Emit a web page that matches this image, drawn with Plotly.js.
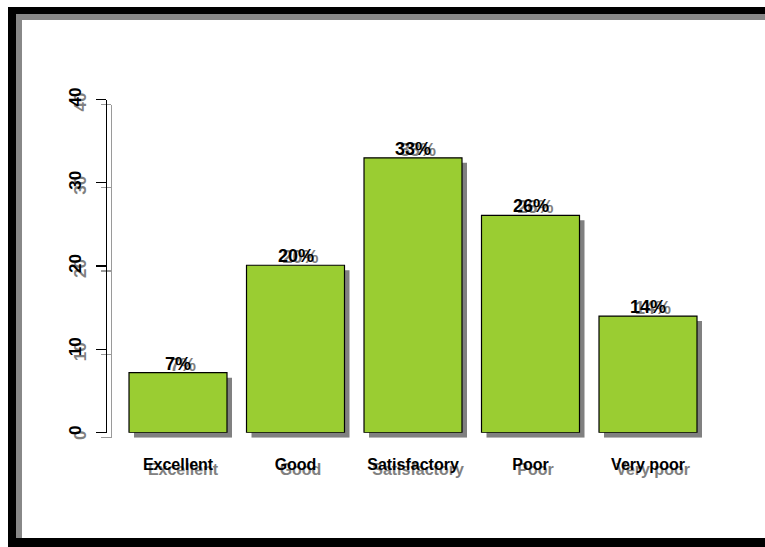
<!DOCTYPE html>
<html>
<head>
<meta charset="utf-8">
<script src="https://cdn.plot.ly/plotly-3.0.1.min.js"></script>
<style>
  html, body { margin:0; padding:0; width:765px; height:547px; overflow:hidden; background:#fff; }
  #chart { position:absolute; left:0; top:0; width:765px; height:547px; }
  #frame { position:absolute; left:8px; top:7px; width:900px; height:540px; box-sizing:border-box;
           border-left:8px solid #000; border-top:7px solid #000; border-bottom:9px solid #000;
           box-shadow: inset 6px 6px 0 #888; pointer-events:none; }
</style>
</head>
<body>
<div id="chart"></div>
<div id="frame"></div>
<script>
// ---- data ----
const categories = ["Excellent", "Good", "Satisfactory", "Poor", "Very poor"];
const values = [7.2, 20.1, 33.0, 26.1, 14.0];
const yTickVals = [0, 10, 20, 30, 40];

// ---- layout helpers (pixel geometry) ----
const W = 765, H = 547;
const plotL = 107, plotR = 718.5, plotT = 99.5, plotB = 432.7;
const sdx = 5, sdy = 5; // shadow offset
const fx = p => p / W, fy = p => (H - p) / H;

const fontFam = "Liberation Sans, Arial, Helvetica, sans-serif";
const shadowGray = "#808080";
const shadowAxis = "#9a9a9a";
const pctFont = { family: fontFam, size: 18, weight: 700 };

const shadow = {
  type: "bar", x: categories, y: values, xaxis: "x", yaxis: "y",
  marker: { color: shadowGray, line: { width: 0 } },
  texttemplate: "%{y:.0f}%", textposition: "outside", cliponaxis: false,
  textfont: Object.assign({ color: shadowGray }, pctFont),
  hoverinfo: "skip"
};
const main = {
  type: "bar", x: categories, y: values, xaxis: "x2", yaxis: "y2",
  marker: { color: "#9ACD32", line: { color: "#000", width: 1.2 } },
  hoverinfo: "skip"
};

const mainLabels = categories.map((c, i) => ({
  x: c, y: values[i], xref: "x2", yref: "y2", text: Math.round(values[i]) + "%",
  showarrow: false, yanchor: "bottom", yshift: -3,
  font: Object.assign({ color: "#000" }, pctFont)
}));

function xAx(dom, color) {
  return { domain: dom, range: [-0.6043, 4.6], type: "category", showline: false, showgrid: false,
           zeroline: false, ticks: "", ticklabelstandoff: 20, fixedrange: true,
           tickfont: { family: fontFam, size: 16, weight: 700, color: color } };
}
function yAx(dom, color, lineColor) {
  return { domain: dom, range: [0, 40], tickvals: yTickVals, showgrid: false, zeroline: false,
           showline: true, linecolor: lineColor, linewidth: 1.3, ticks: "outside", ticklen: 10,
           tickcolor: lineColor, tickwidth: 1.3, tickangle: -90, ticklabelstandoff: 8, fixedrange: true,
           tickfont: { family: fontFam, size: 17, weight: 700, color: color } };
}

const layout = {
  width: W, height: H, margin: { l: 0, r: 0, t: 0, b: 0 },
  paper_bgcolor: "#fff", plot_bgcolor: "rgba(0,0,0,0)",
  showlegend: false, bargap: 0.166,
  annotations: mainLabels,
  xaxis:  xAx([fx(plotL + sdx), fx(plotR + sdx)], shadowGray),
  yaxis:  yAx([fy(plotB + sdy), fy(plotT + sdy)], shadowGray, shadowAxis),
  xaxis2: Object.assign(xAx([fx(plotL), fx(plotR)], "#000"), { anchor: "y2" }),
  yaxis2: Object.assign(yAx([fy(plotB), fy(plotT)], "#000", "#000"), { anchor: "x2" })
};
layout.xaxis.anchor = "y";
layout.yaxis.anchor = "x";

Plotly.newPlot("chart", [shadow, main], layout, { staticPlot: true, displayModeBar: false });
</script>
</body>
</html>
